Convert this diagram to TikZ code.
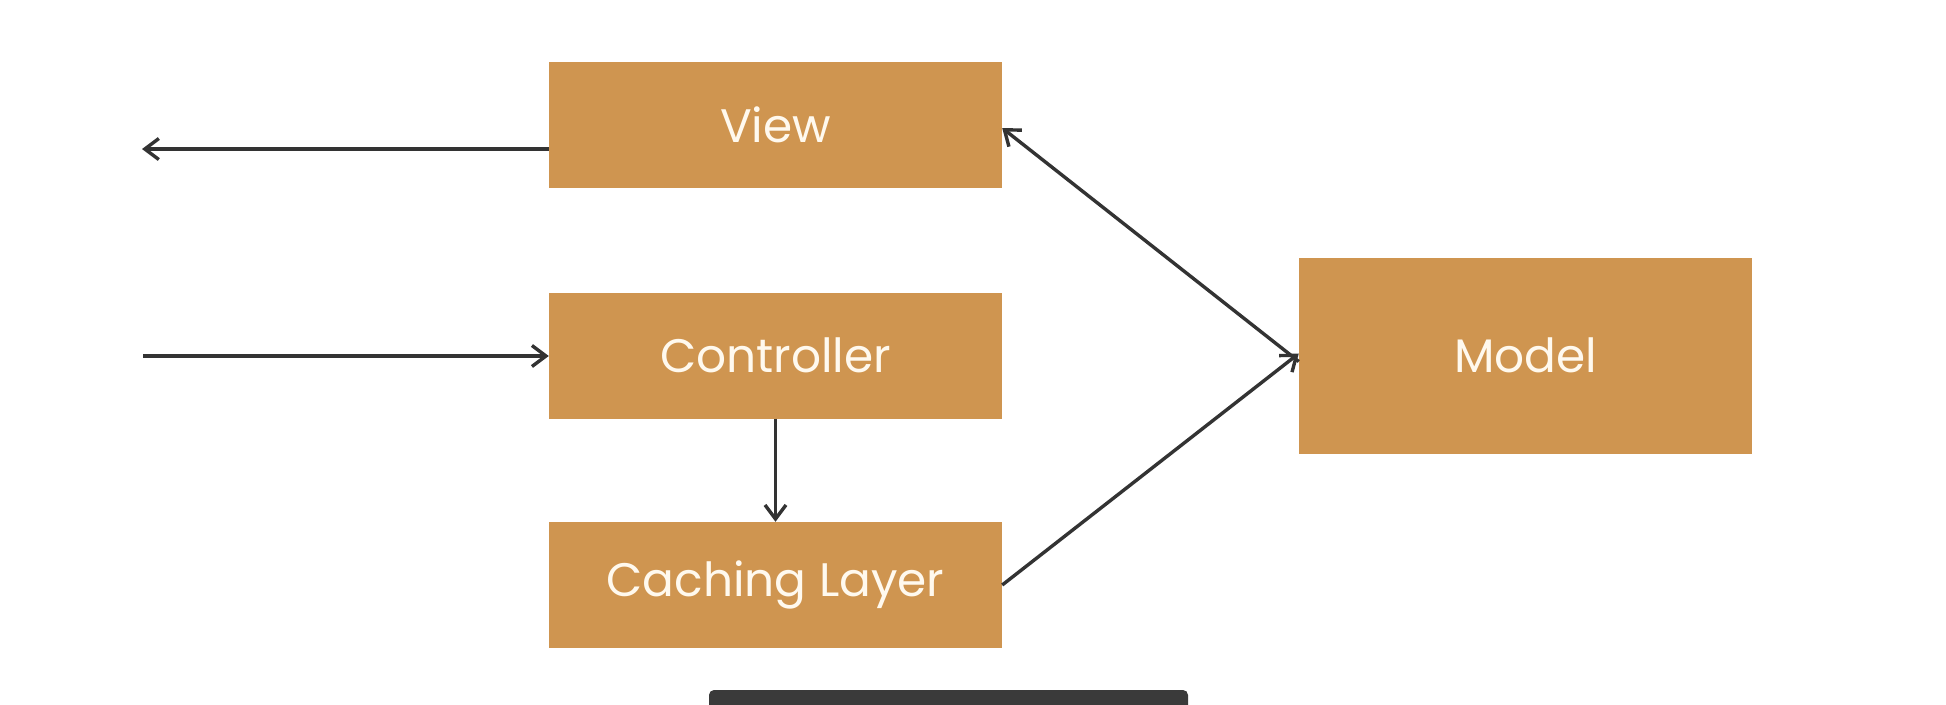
\documentclass[tikz,border=0pt]{standalone}
\usepackage{fontspec}
\setmainfont{Poppins}
\usetikzlibrary{arrows.meta}
\definecolor{boxfill}{HTML}{CF9550}
\definecolor{boxtext}{HTML}{FFF9EE}
\definecolor{linecol}{HTML}{333333}
\definecolor{barcol}{HTML}{3A3A3A}
\begin{document}
\begin{tikzpicture}[x=1pt,y=-1pt,
  block/.style={fill=boxfill, draw=none, text=boxtext, inner sep=0pt,
    font=\fontsize{47}{56}\selectfont},
  conn/.style={draw=linecol, line width=3.4pt,
    -{Straight Barb[length=14pt,width=21pt,line width=3.4pt]}}]
\useasboundingbox[fill=white] (0,0) rectangle (1946,704);
\node[block, minimum width=453pt, minimum height=126pt] (view) at (775.5,125) {View};
\node[block, minimum width=453pt, minimum height=126pt] (ctrl) at (775.5,355.5) {Controller};
\node[block, minimum width=453pt, minimum height=126pt] (cache) at (775.5,585) {Caching Layer};
\node[block, minimum width=453pt, minimum height=196pt] (model) at (1525.5,355.5) {Model};
\coordinate (outL) at (142,149);
\coordinate (inL) at (143,356);
\draw[conn] (view.west |- outL) -- (outL);
\draw[conn] (inL) -- (ctrl.west |- inL);
\draw[conn] (ctrl.south) -- (cache.north);
\draw[conn] ([yshift=-6pt]model.west) -- ([yshift=-3pt]view.east);
\draw[conn] (cache.east) -- ([yshift=2pt]model.west);
\begin{scope}
\clip (0,0) rectangle (1946,704);
\fill[barcol, rounded corners=5pt] (709,720) rectangle (1188,690);
\end{scope}
\end{tikzpicture}
\end{document}
